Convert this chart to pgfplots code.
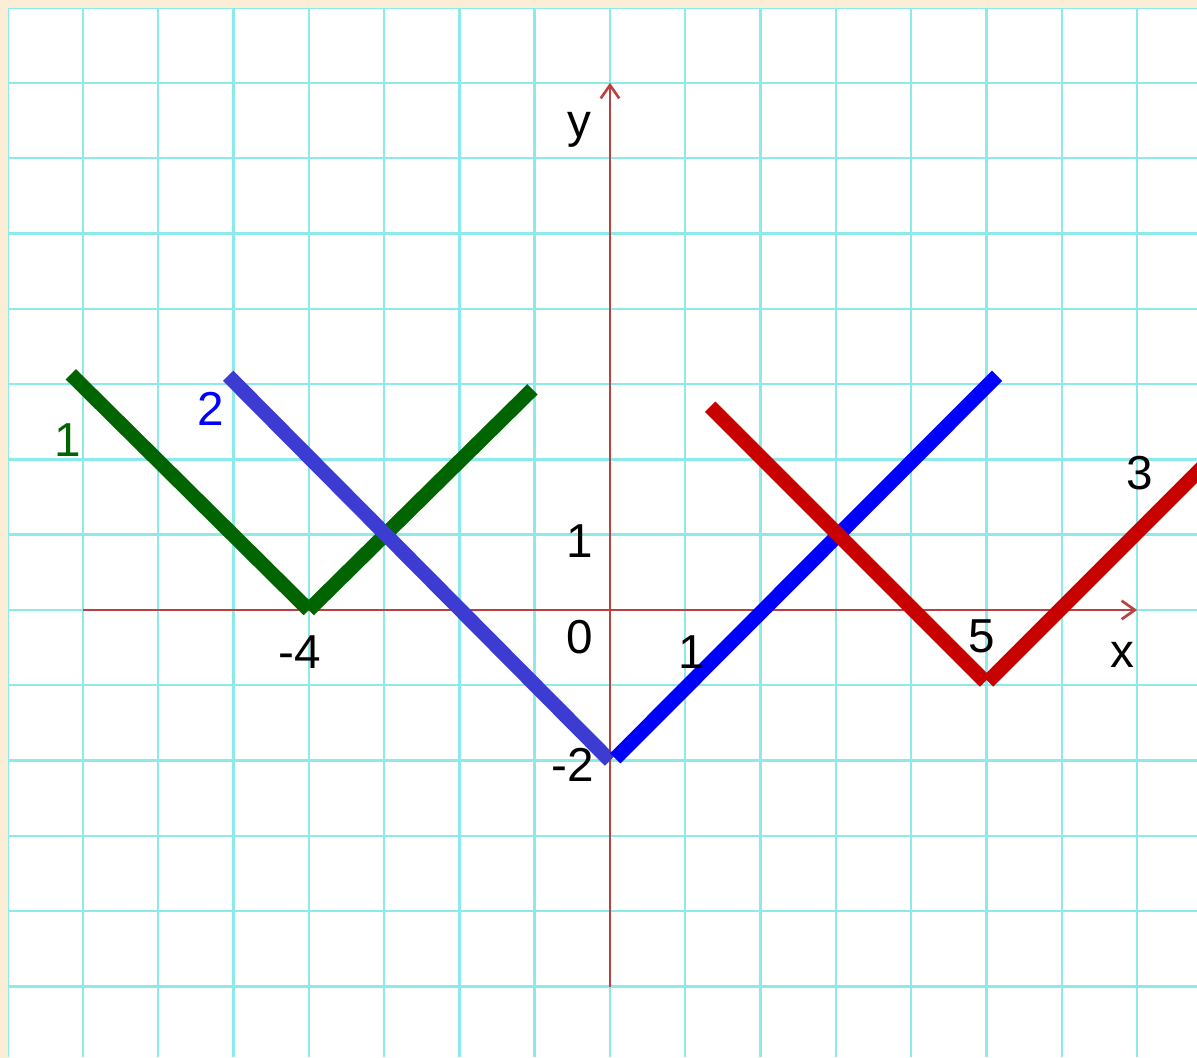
\documentclass[border=0pt]{standalone}
\usepackage{fontspec}
\setmainfont{Liberation Sans}
\usepackage{pgfplots}
\pgfplotsset{compat=1.18}
\usetikzlibrary{arrows.meta}
\definecolor{cream}{RGB}{252,238,214}
\definecolor{gridc}{RGB}{140,234,234}
\definecolor{axisred}{RGB}{185,65,65}
\definecolor{cgreen}{RGB}{0,100,0}
\definecolor{cblueL}{RGB}{60,60,210}
\definecolor{cblueR}{RGB}{0,0,255}
\definecolor{cred}{RGB}{200,0,0}
\begin{document}
\begin{tikzpicture}
\begin{axis}[
  x=1cm, y=1cm,
  xmin=-8.10, xmax=7.795, ymin=-5.936, ymax=8.10,
  axis background/.style={fill=white},
  axis line style={draw=none},
  tick style={draw=none},
  xtick={-8,...,7}, ytick={-5,...,8},
  xticklabels={}, yticklabels={},
  grid=major,
  major grid style={gridc, line width=0.9pt},
  clip=true,
]
\fill[cream] (axis cs:-8.2,-7) rectangle (axis cs:-8.0,9);
\fill[cream] (axis cs:-8.2,8.0) rectangle (axis cs:9,9);
% axes
\draw[axisred, line width=1pt, -{Straight Barb[length=5pt,width=7pt]}] (axis cs:-7,0) -- (axis cs:7,0);
\draw[axisred, line width=1pt, -{Straight Barb[length=5pt,width=7pt]}] (axis cs:0,-5) -- (axis cs:0,7);
% curve 1 (green)
\addplot[cgreen, line width=5.5pt, line cap=butt] coordinates {(-7.16,3.13) (-4,0)};
\addplot[cgreen, line width=5.5pt, line cap=butt] coordinates {(-4,0) (-1.03,2.93)};
% curve 2 (blue)
\addplot[cblueL, line width=5.5pt, line cap=butt] coordinates {(-5.07,3.11) (0,-2)};
\addplot[cblueR, line width=5.5pt, line cap=butt] coordinates {(0.07,-1.97) (5.14,3.11)};
% curve 3 (red)
\addplot[cred, line width=5.5pt, line cap=butt] coordinates {(1.33,2.70) (4.98,-0.95)};
\addplot[cred, line width=5.5pt, line cap=butt] coordinates {(5.02,-0.95) (8.2,2.23)};
% labels
\tikzset{lbl/.style={font=\fontsize{18}{20}\selectfont, inner sep=0pt}}
\node[lbl] at (axis cs:-0.40,6.37) {y};
\node[lbl] at (axis cs:6.81,-0.60) {x};
\node[lbl] at (axis cs:-0.40,-0.36) {0};
\node[lbl] at (axis cs:-0.40,0.92) {1};
\node[lbl] at (axis cs:-0.50,-2.06) {-2};
\node[lbl] at (axis cs:-4.12,-0.56) {-4};
\node[lbl] at (axis cs:1.09,-0.56) {1};
\node[lbl] at (axis cs:4.93,-0.35) {5};
\node[lbl, text=cgreen] at (axis cs:-7.2,2.26) {1};
\node[lbl, text=cblueR] at (axis cs:-5.3,2.67) {2};
\node[lbl] at (axis cs:7.04,1.82) {3};
\end{axis}
\pgfresetboundingbox
\useasboundingbox (current axis.south west) rectangle (current axis.north east);
\end{tikzpicture}
\end{document}
